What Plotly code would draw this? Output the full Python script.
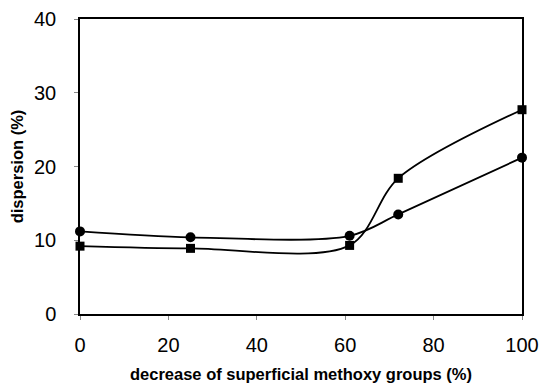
import plotly.graph_objects as go

x_vals = [0, 25, 61, 72, 100]
squares = [9.2, 8.9, 9.3, 18.4, 27.7]
circles = [11.2, 10.4, 10.6, 13.5, 21.2]
x_ticks = [0, 20, 40, 60, 80, 100]
y_ticks = [0, 10, 20, 30, 40]

fig = go.Figure()
fig.add_trace(go.Scatter(x=x_vals, y=circles, mode="lines+markers",
                         line=dict(color="black", width=1.8, shape="spline", smoothing=0.9),
                         marker=dict(symbol="circle", size=10, color="black"),
                         showlegend=False))
fig.add_trace(go.Scatter(x=x_vals, y=squares, mode="lines+markers",
                         line=dict(color="black", width=1.8, shape="spline", smoothing=0.9),
                         marker=dict(symbol="square", size=9, color="black"),
                         showlegend=False))

font = "Liberation Sans, Arial, sans-serif"
fig.update_layout(
    width=541, height=386,
    margin=dict(l=80, r=19, t=19, b=72),
    plot_bgcolor="white", paper_bgcolor="white",
    font=dict(family=font, color="black"),
)
fig.update_xaxes(range=[0, 100], tickvals=x_ticks, ticks="outside", ticklen=4, tickcolor="#888",
                 showgrid=False, zeroline=False, showline=True, linecolor="black", linewidth=1.5,
                 mirror=True, tickfont=dict(size=20), ticklabelstandoff=8, automargin=False,
                 title=dict(text="<b>decrease of superficial methoxy groups (%)</b>", font=dict(size=16.5), standoff=14))
fig.update_yaxes(range=[0, 40], tickvals=y_ticks, ticks="outside", ticklen=4, tickcolor="#888",
                 showgrid=False, zeroline=False, showline=True, linecolor="black", linewidth=1.5,
                 mirror=True, tickfont=dict(size=20), ticklabelstandoff=14, automargin=False,
                 title=dict(text="<b>dispersion (%)</b>", font=dict(size=16.5), standoff=6))
fig.update_traces(cliponaxis=False)
fig.write_html("out.html")
